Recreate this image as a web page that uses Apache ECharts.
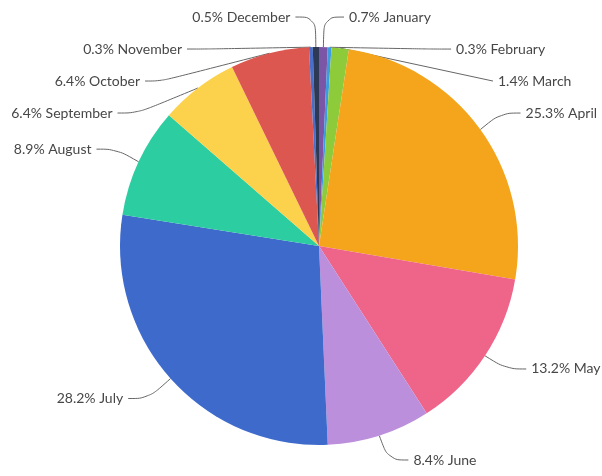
<!DOCTYPE html>
<html>
<head>
<meta charset="utf-8">
<script src="https://cdn.jsdelivr.net/npm/echarts@6/dist/echarts.min.js"></script>
<style>
  html, body { margin: 0; padding: 0; background: #fff; }
  #main { width: 602px; height: 476px; }
</style>
</head>
<body>
<div id="main"></div>
<script>
// values in percent
var months = ['January', 'February', 'March', 'April', 'May', 'June',
              'July', 'August', 'September', 'October', 'November', 'December'];
var shares = [0.7, 0.3, 1.4, 25.3, 13.2, 8.4, 28.2, 8.9, 6.4, 6.4, 0.3, 0.5];
var colors = ['#7b55a6', '#3d9be0', '#8dcb3b', '#f4a51c', '#ef6489', '#bc8fdc',
              '#3e6bcb', '#2ccda0', '#fcd14c', '#dc5750', '#4a6fc9', '#2e3a55'];

var myChart = echarts.init(document.getElementById('main'));

var pieData = [];
for (let i = 0; i < months.length; i++) {
    pieData.push({ name: months[i], value: shares[i], itemStyle: { color: colors[i] } });
}

myChart.setOption({
    animation: false,
    series: [
        {
            type: 'pie',
            center: [319, 246],
            radius: 199,
            startAngle: 90,
            clockwise: true,
            data: pieData,
            label: {
                formatter: function (p) {
                    return p.value.toFixed(1) + '% ' + p.name;
                },
                color: '#474747',
                fontFamily: 'Lato',
                fontSize: 14,
                lineHeight: 30,
                overflow: 'none'
            },
            labelLine: {
                smooth: 0.4,
                length: 30,
                length2: 20,
                lineStyle: { color: '#666', width: 1 }
            },
            itemStyle: { borderWidth: 0 }
        }
    ]
});
</script>
</body>
</html>
